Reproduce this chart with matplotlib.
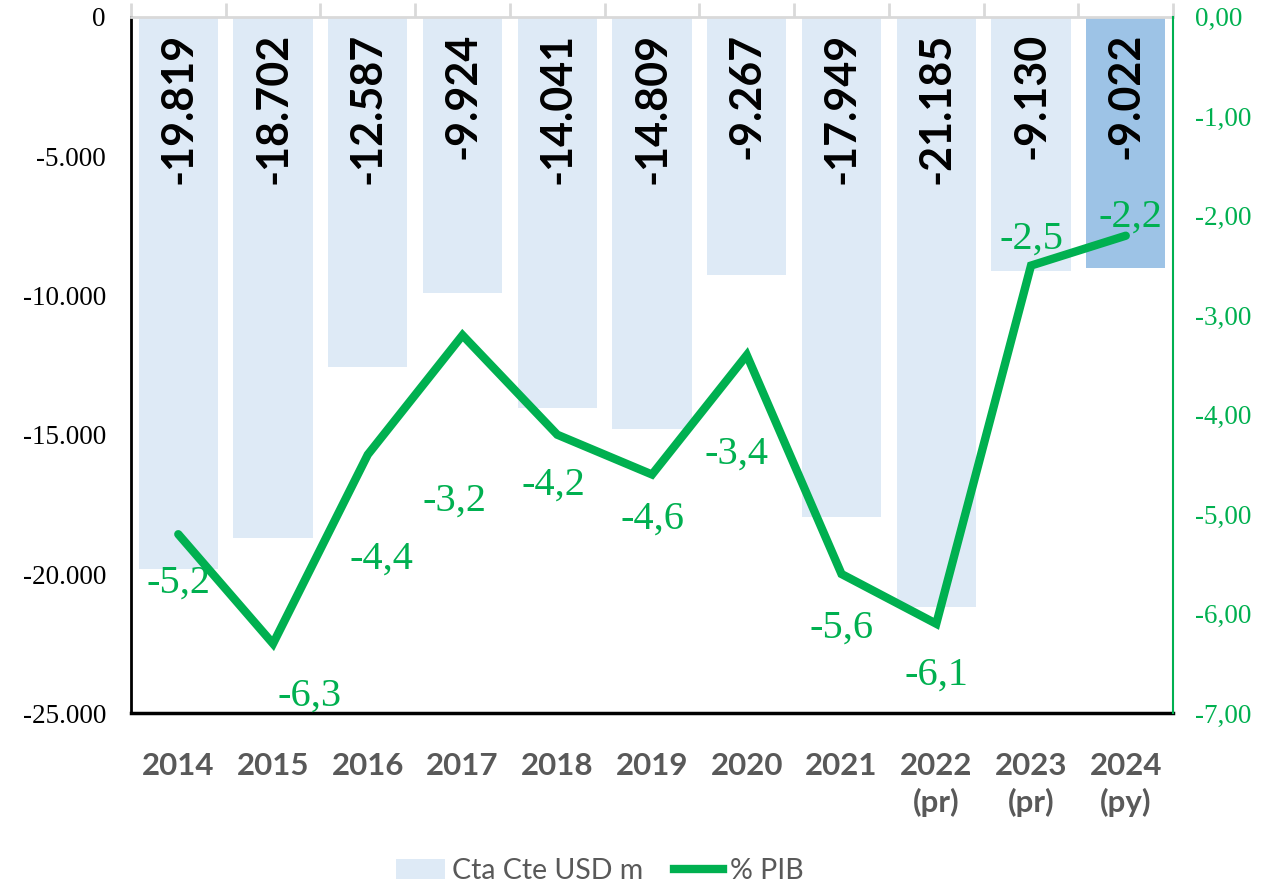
import numpy as np
import matplotlib
matplotlib.use('Agg')
import matplotlib.pyplot as plt
from matplotlib.ticker import FuncFormatter, MultipleLocator
from matplotlib.patches import Patch
from matplotlib.lines import Line2D

# Datos / data
years = ['2014', '2015', '2016', '2017', '2018', '2019', '2020', '2021',
         '2022\n(pr)', '2023\n(pr)', '2024\n(py)']
cta_cte = [-19819, -18702, -12587, -9924, -14041, -14809, -9267, -17949,
           -21185, -9130, -9022]
pct_pib = [-5.2, -6.3, -4.4, -3.2, -4.2, -4.6, -3.4, -5.6, -6.1, -2.5, -2.2]

# posiciones manuales de las etiquetas verdes (pixeles) / manual label offsets
pib_offsets = [(0, -49), (37, -52), (14, -105), (-8, -166), (-4, -50), (0, -45),
               (-10, -99), (0, -54), (0, -51), (0, 26), (5, 19)]

LIGHT = '#DEEAF6'
DARK = '#9DC3E6'
GREEN = '#00B050'
GRAY = '#595959'
SANS = ['Lato', 'DejaVu Sans']
SERIF = ['Liberation Serif', 'DejaVu Serif']

x = np.arange(len(years))
colors = [LIGHT] * (len(years) - 1) + [DARK]

fig = plt.figure(figsize=(12.71, 8.85), dpi=100)
ax = fig.add_axes([0.103, 0.194, 0.820, 0.787])
ax.bar(x, cta_cte, width=0.835, color=colors, zorder=1)
ax.set_xlim(-0.5, len(years) - 0.5)
ax.set_ylim(-25000, 0)

# etiquetas de barras / bar labels
for xi, v in zip(x, cta_cte):
    ax.annotate(f"{v:,}".replace(',', '.'), (xi, 0), xytext=(0, -16),
                textcoords='offset pixels', rotation=90, ha='center', va='top',
                fontsize=31, fontweight='bold', family=SANS, color='black')

ax.yaxis.set_major_locator(MultipleLocator(5000))
ax.yaxis.set_major_formatter(FuncFormatter(lambda v, p: f"{v:,.0f}".replace(',', '.')))
ax.tick_params(axis='y', length=0, pad=18, labelsize=19.5)
for lab in ax.get_yticklabels():
    lab.set_family(SERIF)

ax.set_xticks(x)
ax.set_xticklabels(years, fontsize=22.5, fontweight='bold', color=GRAY,
                   family=SANS, linespacing=1.3)
ax.tick_params(axis='x', which='major', length=0, pad=28)
ax.set_xticks(np.arange(len(years) + 1) - 0.5, minor=True)
ax.tick_params(axis='x', which='minor', bottom=False, top=True, length=10,
               width=2, color='#D9D9D9', direction='out')

ax.spines['top'].set_color('#D9D9D9')
ax.spines['top'].set_linewidth(2)
ax.spines['left'].set_linewidth(2)
ax.spines['bottom'].set_linewidth(2.5)
ax.spines['right'].set_visible(False)

# eje secundario / secondary axis
ax2 = ax.twinx()
ax2.plot(x, pct_pib, color=GREEN, lw=6, solid_joinstyle='miter',
         solid_capstyle='round', zorder=3)
ax2.set_ylim(-7, 0)
ax2.yaxis.set_major_locator(MultipleLocator(1))


def fmt_pct(v, p):
    if abs(v) < 1e-9:
        v = 0.0
    return f"{v:.2f}".replace('.', ',')


ax2.yaxis.set_major_formatter(FuncFormatter(fmt_pct))
ax2.tick_params(axis='y', length=0, pad=16, labelsize=19.5, labelcolor=GREEN)
for lab in ax2.get_yticklabels():
    lab.set_family(SERIF)
for s in ['top', 'left', 'bottom']:
    ax2.spines[s].set_visible(False)
ax2.spines['right'].set_color(GREEN)
ax2.spines['right'].set_linewidth(1.5)

for xi, v, off in zip(x, pct_pib, pib_offsets):
    ax2.annotate(f"{v:.1f}".replace('.', ','), (xi, v), xytext=off,
                 textcoords='offset pixels', ha='center', va='center',
                 fontsize=29, family=SERIF, color=GREEN, zorder=4)

handles = [Patch(facecolor=LIGHT, edgecolor='none'),
           Line2D([], [], color=GREEN, lw=6)]
fig.legend(handles, ['Cta Cte USD m', '% PIB'], loc='center',
           bbox_to_anchor=(600 / 1271, 14 / 885), ncol=2, frameon=False,
           prop={'family': SANS, 'size': 20.5}, labelcolor=GRAY,
           handlelength=1.7, handleheight=0.7, handletextpad=0.25,
           columnspacing=1.1)

plt.savefig('out.png', dpi=100)
plt.close()
